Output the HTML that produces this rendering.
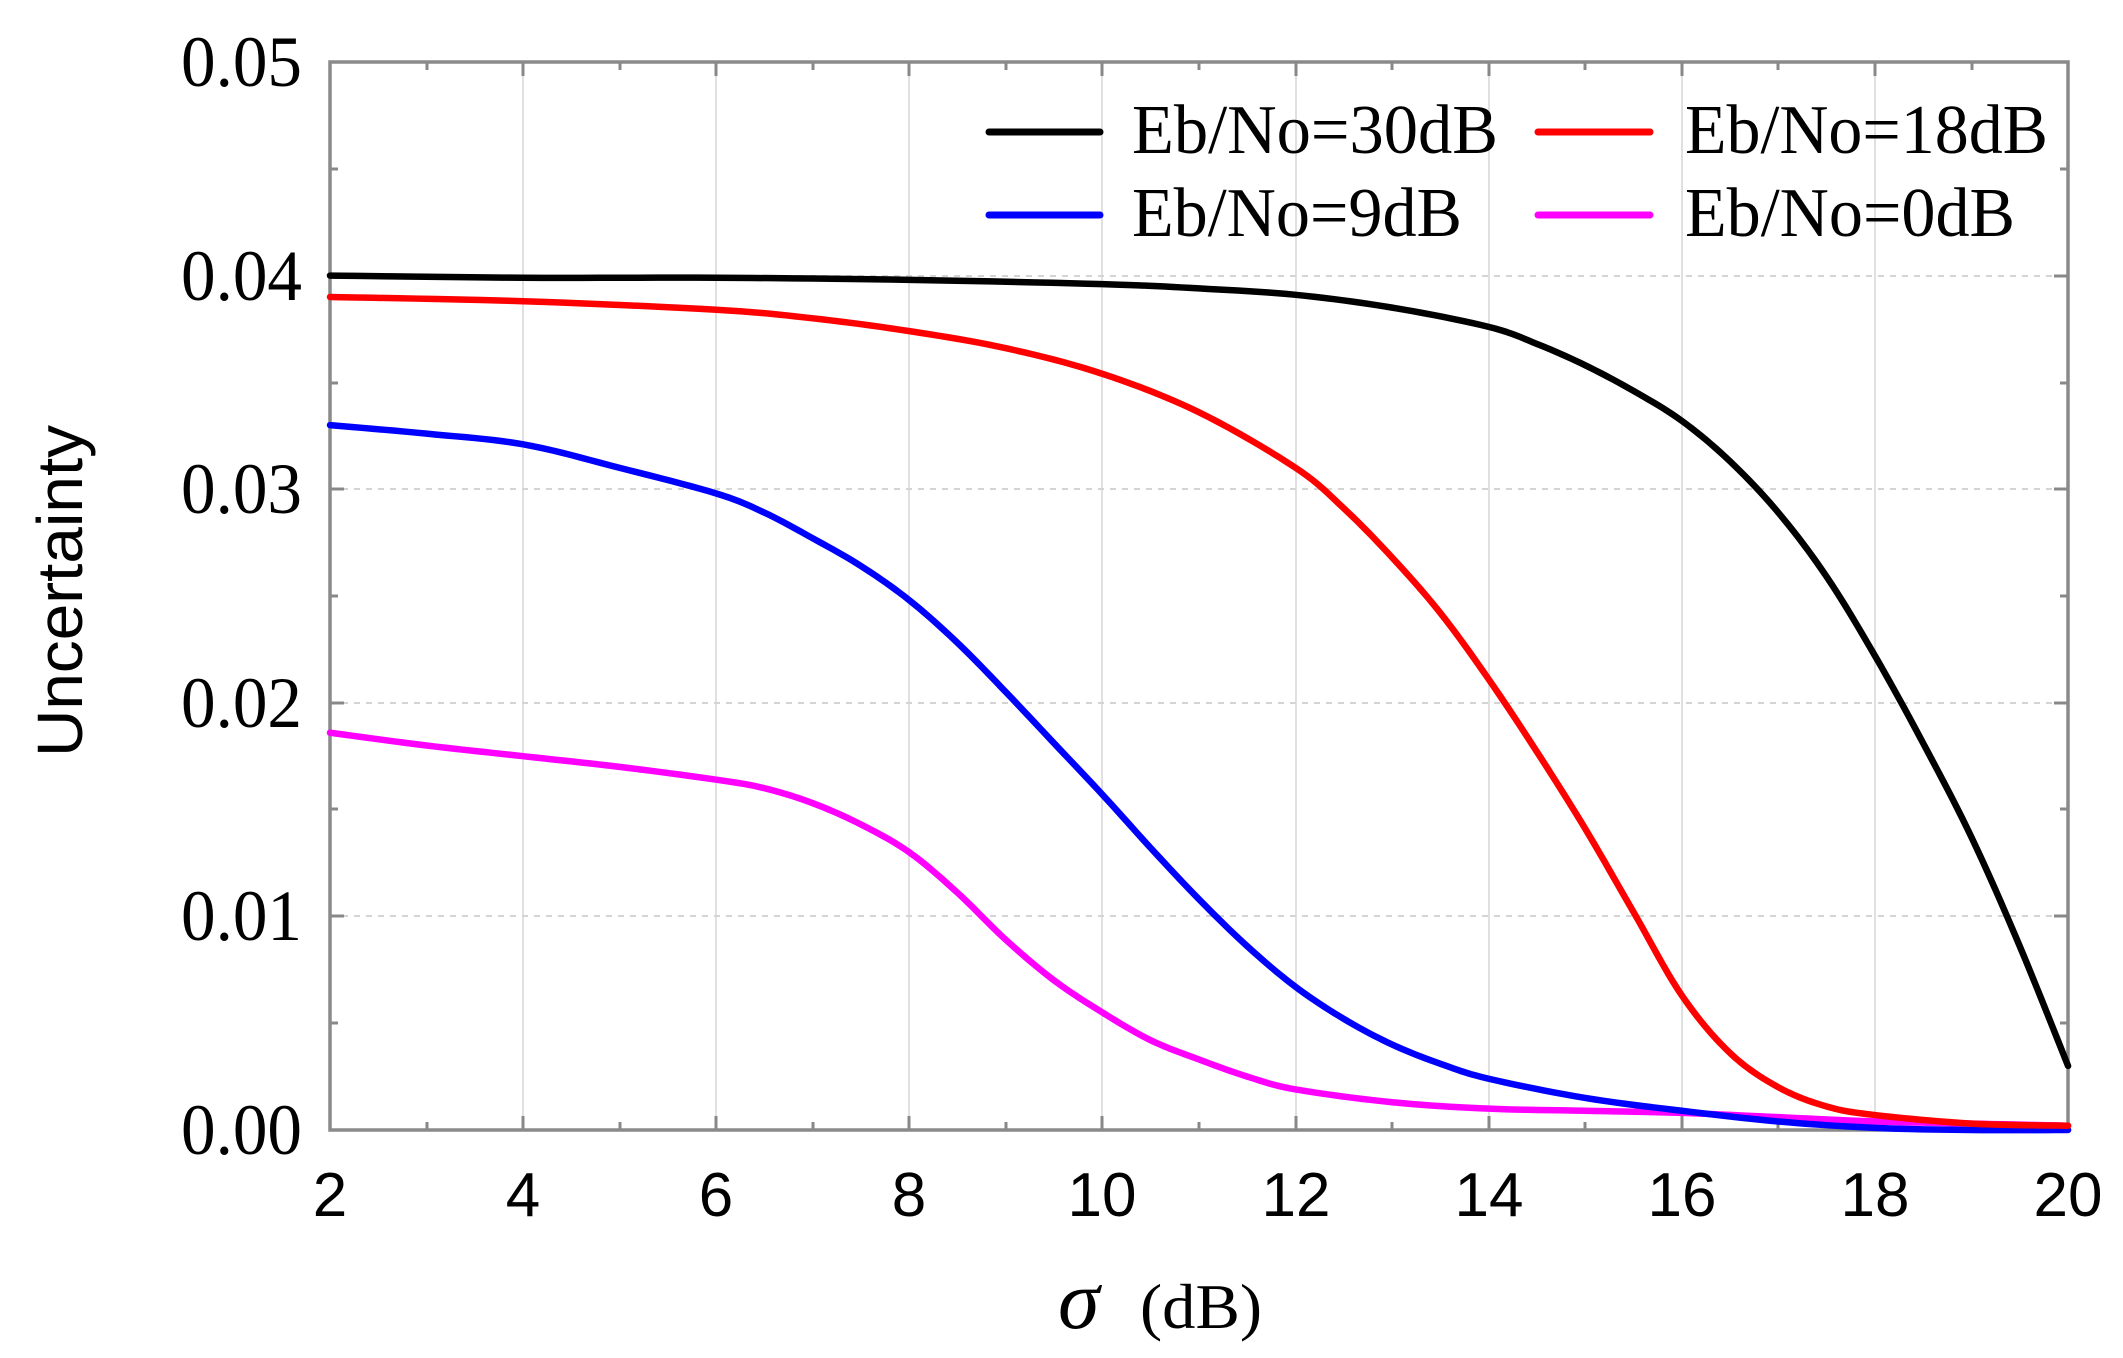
<!DOCTYPE html>
<html><head><meta charset="utf-8"><style>html,body{margin:0;padding:0;background:#fff}svg{display:block}</style></head>
<body>
<svg width="2123" height="1358" viewBox="0 0 2123 1358" xmlns="http://www.w3.org/2000/svg">
<rect width="2123" height="1358" fill="#fff"/>
<g stroke="#e0e0e0" stroke-width="2">
<line x1="523" y1="62" x2="523" y2="1130"/><line x1="716" y1="62" x2="716" y2="1130"/><line x1="909" y1="62" x2="909" y2="1130"/><line x1="1102" y1="62" x2="1102" y2="1130"/><line x1="1296" y1="62" x2="1296" y2="1130"/><line x1="1489" y1="62" x2="1489" y2="1130"/><line x1="1682" y1="62" x2="1682" y2="1130"/><line x1="1875" y1="62" x2="1875" y2="1130"/>
</g>
<g stroke="#d4d4d4" stroke-width="2" stroke-dasharray="6,6">
<line x1="330" y1="916" x2="2068" y2="916"/><line x1="330" y1="703" x2="2068" y2="703"/><line x1="330" y1="489" x2="2068" y2="489"/><line x1="330" y1="276" x2="2068" y2="276"/>
</g>
<g stroke="#888" stroke-width="3">
<path d="M523 1130v-14M716 1130v-14M909 1130v-14M1102 1130v-14M1296 1130v-14M1489 1130v-14M1682 1130v-14M1875 1130v-14
M523 62v14M716 62v14M909 62v14M1102 62v14M1296 62v14M1489 62v14M1682 62v14M1875 62v14
M427 1130v-8M620 1130v-8M813 1130v-8M1006 1130v-8M1199 1130v-8M1392 1130v-8M1585 1130v-8M1778 1130v-8M1972 1130v-8
M427 62v8M620 62v8M813 62v8M1006 62v8M1199 62v8M1392 62v8M1585 62v8M1778 62v8M1972 62v8
M330 916h14M330 703h14M330 489h14M330 276h14M2068 916h-14M2068 703h-14M2068 489h-14M2068 276h-14
M330 1023h8M330 809h8M330 596h8M330 383h8M330 169h8M2068 1023h-8M2068 809h-8M2068 596h-8M2068 383h-8M2068 169h-8"/>
</g>
<rect x="330" y="62" width="1738" height="1068" fill="none" stroke="#8a8a8a" stroke-width="3.5"/>
<g id="curves" transform="translate(330,1130) scale(96.56,-21360) translate(-2,0)" fill="none" stroke-linejoin="round" stroke-linecap="round">
<polyline vector-effect="non-scaling-stroke" stroke-width="6.5" stroke="#ff00ff" points="2,0.0186 3,0.0180 4,0.0175 5,0.0170 6,0.0164 6.5,0.0160 7,0.0153 7.5,0.0143 8,0.0130 8.5,0.0111 9,0.0089 9.5,0.0070 10,0.0055 10.5,0.0042 11,0.0033 11.5,0.0025 12,0.0019 13,0.0013 14,0.0010 15,0.0009 16,0.0008 17,0.0006 18,0.0004 19,0.0003 20,0.0002"/>
<polyline vector-effect="non-scaling-stroke" stroke-width="6.5" stroke="#0000ff" points="2,0.0330 3,0.0326 4,0.0321 5,0.0310 6,0.0298 6.5,0.0289 7,0.0277 7.5,0.0264 8,0.0248 8.5,0.0228 9,0.0205 9.5,0.0181 10,0.0157 10.5,0.0132 11,0.0108 11.5,0.0086 12,0.0067 12.5,0.0052 13,0.0040 13.5,0.0031 14,0.0024 15,0.0015 16,0.0009 17,0.0004 18,0.0001 19,0.0000 20,0.0000"/>
<polyline vector-effect="non-scaling-stroke" stroke-width="6.5" stroke="#ff0000" points="2,0.0390 4,0.0388 6,0.0384 7,0.0380 8,0.0374 9,0.0366 10,0.0354 11,0.0336 12,0.0310 12.5,0.0291 13,0.0268 13.5,0.0242 14,0.0211 14.5,0.0177 15,0.0141 15.5,0.0102 16,0.0063 16.5,0.0036 17,0.0020 17.5,0.0011 18,0.0007 19,0.0003 20,0.0002"/>
<polyline vector-effect="non-scaling-stroke" stroke-width="6.5" stroke="#000" points="2,0.0400 4,0.0399 6,0.0399 8,0.0398 10,0.0396 11,0.0394 12,0.0391 13,0.0385 14,0.0376 14.5,0.0368 15,0.0358 15.5,0.0346 16,0.0332 16.5,0.0313 17,0.0289 17.5,0.0259 18,0.0222 18.5,0.0181 19,0.0137 19.5,0.0086 20,0.0030"/>
</g>
<g font-family="Liberation Serif, serif" font-size="72" text-anchor="end" fill="#000">
<text x="302" y="1154" textLength="121" lengthAdjust="spacingAndGlyphs">0.00</text>
<text x="302" y="940" textLength="121" lengthAdjust="spacingAndGlyphs">0.01</text>
<text x="302" y="727" textLength="121" lengthAdjust="spacingAndGlyphs">0.02</text>
<text x="302" y="513" textLength="121" lengthAdjust="spacingAndGlyphs">0.03</text>
<text x="302" y="300" textLength="121" lengthAdjust="spacingAndGlyphs">0.04</text>
<text x="302" y="86" textLength="121" lengthAdjust="spacingAndGlyphs">0.05</text>
</g>
<g font-family="Liberation Sans, sans-serif" font-size="62" text-anchor="middle" fill="#000">
<text x="330" y="1216">2</text><text x="523" y="1216">4</text><text x="716" y="1216">6</text><text x="909" y="1216">8</text><text x="1102" y="1216">10</text><text x="1296" y="1216">12</text><text x="1489" y="1216">14</text><text x="1682" y="1216">16</text><text x="1875" y="1216">18</text><text x="2068" y="1216">20</text>
</g>
<text x="1058" y="1328" font-family="Liberation Serif, serif" font-style="italic" font-size="84">σ</text>
<text x="1140" y="1328" font-family="Liberation Serif, serif" font-size="64" textLength="122" lengthAdjust="spacingAndGlyphs">(dB)</text>
<text transform="translate(82,591) rotate(-90)" text-anchor="middle" font-family="Liberation Sans, sans-serif" font-size="64" textLength="332" lengthAdjust="spacingAndGlyphs">Uncertainty</text>
<g stroke-width="7" stroke-linecap="round">
<line x1="989" y1="132" x2="1100" y2="132" stroke="#000"/>
<line x1="1538" y1="132" x2="1650" y2="132" stroke="#ff0000"/>
<line x1="989" y1="215" x2="1100" y2="215" stroke="#0000ff"/>
<line x1="1538" y1="215" x2="1650" y2="215" stroke="#ff00ff"/>
</g>
<g font-family="Liberation Serif, serif" font-size="70" fill="#000">
<text x="1132" y="153" textLength="366" lengthAdjust="spacingAndGlyphs">Eb/No=30dB</text>
<text x="1685" y="153" textLength="363" lengthAdjust="spacingAndGlyphs">Eb/No=18dB</text>
<text x="1132" y="236" textLength="330" lengthAdjust="spacingAndGlyphs">Eb/No=9dB</text>
<text x="1685" y="236" textLength="330" lengthAdjust="spacingAndGlyphs">Eb/No=0dB</text>
</g>
</svg>
<script>
(function(){
var pls=document.querySelectorAll('#curves polyline');
for(var i=0;i<pls.length;i++){
 var pl=pls[i];
 var pts=pl.getAttribute('points').trim().split(/\s+/).map(function(s){var a=s.split(',');return [+a[0],+a[1]];});
 var out=[];
 for(var k=0;k<pts.length-1;k++){
  var p0=pts[Math.max(k-1,0)],p1=pts[k],p2=pts[k+1],p3=pts[Math.min(k+2,pts.length-1)];
  for(var t=0;t<1;t+=0.1){
   var t2=t*t,t3=t2*t;
   var f=function(a,b,c,d){return 0.5*((2*b)+(-a+c)*t+(2*a-5*b+4*c-d)*t2+(-a+3*b-3*c+d)*t3);};
   out.push(f(p0[0],p1[0],p2[0],p3[0]).toFixed(4)+','+f(p0[1],p1[1],p2[1],p3[1]).toFixed(6));
  }
 }
 var l=pts[pts.length-1];out.push(l[0]+','+l[1]);
 pl.setAttribute('points',out.join(' '));
}
})();
</script>
</body></html>
